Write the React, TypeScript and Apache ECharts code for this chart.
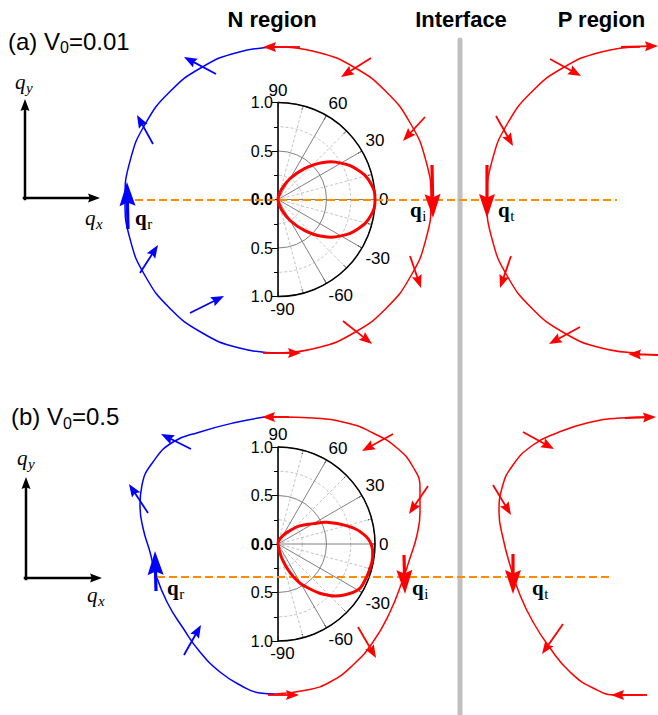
import React, { useEffect, useRef } from 'react';
import * as echarts from 'echarts';

const CANVAS_W = 658;
const CANVAS_H = 715;
const SANS = '"Liberation Sans", Arial, sans-serif';
const SERIF = '"Liberation Serif", "Times New Roman", serif';

// ---------- Panel (a): V0 = 0.01 (sketch coordinates, px) ----------
const contourA_N_red: number[][] = [
  [278, 47], [317.6, 52.2], [354.5, 67.5], [386.2, 91.8], [410.5, 123.5], [425.8, 160.4], [431, 200],
  [425.8, 239.6], [410.5, 276.5], [386.2, 308.2], [354.5, 332.5], [317.6, 347.8], [278, 353],
];
const contourA_N_blue: number[][] = [
  [278, 47], [238.4, 52.2], [201.5, 67.5], [169.8, 91.8], [145.5, 123.5], [130.2, 160.4], [125, 200],
  [130.2, 239.6], [145.5, 276.5], [169.8, 308.2], [201.5, 332.5], [238.4, 347.8], [278, 353],
];
const contourA_P: number[][] = [
  [640, 47], [600.4, 52.2], [563.5, 67.5], [531.8, 91.8], [507.5, 123.5], [492.2, 160.4], [487, 200],
  [492.2, 239.6], [507.5, 276.5], [531.8, 308.2], [563.5, 332.5], [600.4, 347.8], [640, 353],
];
// [tailX, tailY, tipX, tipY, kind] kind: 0 small, 1 large, 2 axis
const arrowsA_red: number[][] = [
  [300, 47, 263, 47, 0], [371, 58, 341, 77, 0], [425, 117, 403, 141, 0], [432, 165, 433, 218, 1],
  [410, 256, 421, 288, 0], [343, 321, 372, 344, 0], [263, 353, 301, 353, 0],
  [621, 47, 658, 46, 0], [550, 59, 581, 76, 0], [496, 116, 513, 146, 0], [487, 165, 487, 218, 1],
  [511, 256, 500, 288, 0], [580, 327, 549, 344, 0], [658, 355, 628, 354, 0],
];
const arrowsA_blue: number[][] = [
  [216, 74, 184, 57, 0], [153, 144, 137, 115, 0], [128, 229, 127, 182, 1],
  [140, 273, 158, 245, 0], [190, 313, 224, 296, 0],
];
const dashedA: number[][] = [[135, 200], [617, 200]];

// ---------- Panel (b): V0 = 0.5 ----------
const contourB_N_red: number[][] = [
  [265, 417], [280, 417], [313, 418], [347, 423], [373, 433], [397, 448], [413, 467], [420, 488], [420, 512],
  [417, 535], [410, 558], [402, 582], [390, 612], [373, 642], [353, 665], [330, 682], [307, 690], [275, 694],
];
const contourB_N_blue: number[][] = [
  [265, 417], [233, 423], [200, 432], [173, 442], [153, 462], [142, 485], [140, 505], [143, 528], [150, 552],
  [155, 572], [167, 602], [183, 628], [200, 652], [220, 672], [240, 685], [260, 693], [275, 694],
];
const contourB_P: number[][] = [
  [650, 417], [620, 418], [587, 423], [557, 433], [533, 445], [513, 465], [502, 488], [499, 512], [503, 538],
  [510, 565], [520, 595], [533, 622], [550, 648], [570, 672], [593, 688], [617, 695], [643, 695],
];
const arrowsB_red: number[][] = [
  [289, 417, 262, 417, 0], [393, 434, 362, 451, 0], [428, 486, 409, 514, 0], [404, 555, 405, 594, 1],
  [358, 627, 376, 658, 0], [268, 695, 299, 695, 0],
  [625, 418, 656, 417, 0], [523, 432, 554, 449, 0], [493, 485, 511, 515, 0], [513, 554, 513, 594, 1],
  [563, 624, 542, 654, 0], [647, 695, 611, 695, 0],
];
const arrowsB_blue: number[][] = [
  [191, 449, 161, 434, 0], [148, 513, 129, 484, 0], [156, 591, 155, 551, 1], [184, 655, 201, 625, 0],
];
const dashedB: number[][] = [[157, 577], [613, 577]];

// ---------- shared ----------
const interfaceLine: number[][] = [[460, 40], [460, 715]];
const axisArrows: number[][] = [
  [25, 199, 25, 99, 2], [24, 198, 100, 198, 2],
  [26, 579, 26, 477, 2], [25, 578, 102, 578, 2],
];

// polar transmission lobes: angle (deg) / radius
const polarAnglesA = [90, 80, 70, 60, 50, 40, 30, 20, 10, 0, -10, -20, -30, -40, -50, -60, -70, -80, -90];
const polarRadiiA = [0, 0.03, 0.12, 0.25, 0.41, 0.59, 0.75, 0.88, 0.97, 1, 0.97, 0.88, 0.75, 0.59, 0.41, 0.25, 0.12, 0.03, 0];
const polarAnglesB = [90, 75, 60, 50, 40, 30, 24, 15, 7, 0, -8, -16, -24, -30, -37, -45, -55, -65, -75, -90];
const polarRadiiB = [0, 0.04, 0.1, 0.17, 0.29, 0.42, 0.55, 0.73, 0.88, 0.96, 0.985, 0.98, 0.97, 0.95, 0.87, 0.75, 0.56, 0.37, 0.15, 0];

const polarCenters: number[][] = [[278, 199.5], [278, 544]];
const POLAR_R = 97;

function arrowSeries(data: number[][], color: string) {
  return {
    type: 'custom',
    xAxisIndex: 0,
    yAxisIndex: 0,
    data,
    z: 8,
    silent: true,
    clip: false,
    encode: { x: [0, 2], y: [1, 3] },
    renderItem: (_p: any, api: any) => {
      const a = api.coord([api.value(0), api.value(1)]);
      const b = api.coord([api.value(2), api.value(3)]);
      const kind = api.value(4);
      const L = kind === 1 ? 24 : kind === 2 ? 12 : 13;
      const hw = kind === 1 ? 8 : kind === 2 ? 4.5 : 5;
      const lw = kind === 1 ? 3.2 : kind === 2 ? 2.5 : 1.8;
      const dx = b[0] - a[0];
      const dy = b[1] - a[1];
      const len = Math.hypot(dx, dy) || 1;
      const ux = dx / len, uy = dy / len;
      const px = -uy, py = ux;
      const bx = b[0] - ux * L, by = b[1] - uy * L;
      return {
        type: 'group',
        children: [
          {
            type: 'line',
            shape: { x1: a[0], y1: a[1], x2: b[0] - ux * L * 0.6, y2: b[1] - uy * L * 0.6 },
            style: { stroke: color, lineWidth: lw, lineCap: kind === 2 ? 'square' : 'butt' },
          },
          {
            type: 'polygon',
            shape: {
              points: [
                [b[0], b[1]],
                [bx + px * hw, by + py * hw],
                [b[0] - ux * L * 0.85, b[1] - uy * L * 0.85],
                [bx - px * hw, by - py * hw],
              ],
            },
            style: { fill: color },
          },
        ],
      };
    },
  };
}

function lobeSeries(polarIndex: number, angles: number[], radii: number[]) {
  return {
    type: 'custom',
    coordinateSystem: 'polar',
    polarIndex,
    data: [[radii[0], angles[0]]],
    z: 6,
    silent: true,
    clip: false,
    renderItem: (_p: any, api: any) => {
      const pts = angles.map((a, i) => api.coord([radii[i], a]));
      return {
        type: 'polyline',
        shape: { points: pts, smooth: 0.45 },
        style: { stroke: '#ff0000', lineWidth: 3, fill: null, lineJoin: 'round' },
      };
    },
  };
}

function lineSeries(data: number[][], color: string, width: number, extra: any = {}) {
  return {
    type: 'line',
    xAxisIndex: 0,
    yAxisIndex: 0,
    data,
    smooth: true,
    symbol: 'none',
    silent: true,
    z: 3,
    lineStyle: { color, width },
    ...extra,
  };
}

export default function App() {
  const ref = useRef<HTMLDivElement>(null);

  useEffect(() => {
    if (!ref.current) return;
    const chart = echarts.init(ref.current, undefined, { renderer: 'svg' });

    const ctx = document.createElement('canvas').getContext('2d') as CanvasRenderingContext2D;
    const tw = (t: string, font: string) => {
      ctx.font = font;
      return ctx.measureText(t).width;
    };
    const txt = (text: string, x: number, baseline: number, size: number, family: string,
      weight = 'normal', fstyle = 'normal', align = 'left') => ({
      type: 'text',
      x,
      y: baseline - 0.345 * size,
      z: 20,
      silent: true,
      style: {
        text, fontSize: size, fontFamily: family, fontWeight: weight, fontStyle: fstyle,
        fill: '#000', textAlign: align, align, textVerticalAlign: 'middle', verticalAlign: 'middle',
      },
    });

    const graphics: any[] = [];
    // white masks hiding the left half of the polar rings
    polarCenters.forEach((c) => {
      graphics.push({
        type: 'rect',
        z: 1,
        silent: true,
        shape: { x: c[0] - POLAR_R - 3, y: c[1] - POLAR_R - 3, width: POLAR_R + 2.5, height: 2 * POLAR_R + 6 },
        style: { fill: '#ffffff' },
      });
    });
    // titles
    graphics.push(txt('N region', 272, 27.3, 22, SANS, 'bold', 'normal', 'center'));
    graphics.push(txt('Interface', 461, 27.3, 22, SANS, 'bold', 'normal', 'center'));
    graphics.push(txt('P region', 601.5, 27.3, 22, SANS, 'bold', 'normal', 'center'));

    // panel labels with subscript
    const panelLabel = (pre: string, post: string, x: number, baseline: number) => {
      const w1 = tw(pre, `24px ${SANS}`);
      const w2 = tw('0', `16px ${SANS}`);
      graphics.push(txt(pre, x, baseline, 24, SANS));
      graphics.push(txt('0', x + w1, baseline + 4, 16, SANS));
      graphics.push(txt(post, x + w1 + w2, baseline, 24, SANS));
    };
    panelLabel('(a) V', '=0.01', 8, 49.5);
    panelLabel('(b) V', '=0.5', 11, 425);

    // italic q_x / q_y
    const italicQ = (sub: string, x: number, baseline: number) => {
      const w = tw('q', `italic 21px ${SERIF}`);
      graphics.push(txt('q', x, baseline, 21, SERIF, 'normal', 'italic'));
      graphics.push(txt(sub, x + w + 0.5, baseline + 4, 15, SERIF, 'normal', 'italic'));
    };
    italicQ('y', 15, 89);
    italicQ('x', 85, 225);
    italicQ('y', 17, 465);
    italicQ('x', 87, 602);

    // bold q labels
    const boldQ = (sub: string, x: number, baseline: number) => {
      const w = tw('q', `bold 21px ${SERIF}`);
      graphics.push(txt('q', x, baseline, 21, SERIF, 'bold'));
      graphics.push(txt(sub, x + w + 0.5, baseline + 4, 15, SERIF));
    };
    boldQ('r', 135, 225);
    boldQ('i', 410, 217);
    boldQ('t', 498, 217);
    boldQ('r', 167, 595);
    boldQ('i', 412, 595);
    boldQ('t', 532, 595);

    const angleAxisBase = (i: number) => ({
      polarIndex: i,
      type: 'value',
      min: -90,
      max: 90,
      interval: 30,
      startAngle: -90,
      endAngle: 90,
      clockwise: false,
      z: 0,
      axisLine: { show: true, lineStyle: { color: '#000', width: 1.5 } },
      axisTick: { show: true, inside: true, length: 5, lineStyle: { color: '#000', width: 1 } },
      minorTick: { show: true, splitNumber: 2, length: 4, lineStyle: { color: '#000', width: 1 } },
      axisLabel: {
        show: true, margin: 4, fontSize: 17, color: '#000', fontFamily: SANS,
        formatter: (v: number) => (v === -90 ? '{m|-90}' : String(v)),
        rich: { m: { fontSize: 17, color: '#000', fontFamily: SANS, padding: [0, 0, 0, 9] } },
      },
      splitLine: { show: true, lineStyle: { color: '#808080', width: 1 } },
      minorSplitLine: { show: true, lineStyle: { color: '#c4c4c4', width: 1, type: [3, 2] } },
    });
    const radiusAxisBase = (i: number) => ({
      polarIndex: i,
      type: 'value',
      min: 0,
      max: 1,
      interval: 0.5,
      z: 0,
      axisLine: { show: false },
      axisTick: { show: false },
      axisLabel: { show: false },
      splitLine: { show: true, lineStyle: { color: '#808080', width: 1 } },
      minorTick: { show: false, splitNumber: 2 },
      minorSplitLine: { show: true, lineStyle: { color: '#c4c4c4', width: 1, type: [3, 2] } },
    });
    const leftAxis = (g: number) => ({
      gridIndex: g,
      type: 'value',
      min: -1,
      max: 1,
      interval: 0.5,
      z: 4,
      axisLine: { show: true, lineStyle: { color: '#000', width: 1.5 } },
      axisTick: { show: true, length: 6, lineStyle: { color: '#000', width: 1 } },
      minorTick: { show: true, splitNumber: 2, length: 4, lineStyle: { color: '#000', width: 1 } },
      splitLine: { show: false },
      axisLabel: {
        margin: 5, fontSize: 16, color: '#000', fontFamily: SANS,
        formatter: (v: number) => (v === 0 ? '{b|0.0}' : Math.abs(v).toFixed(1)),
        rich: { b: { fontSize: 16, fontWeight: 'bold', color: '#000', fontFamily: SANS } },
      },
    });

    const option: any = {
      animation: false,
      backgroundColor: '#ffffff',
      grid: [
        { left: 0, top: 0, width: CANVAS_W, height: CANVAS_H, outerBoundsMode: 'none', containLabel: false },
        { left: polarCenters[0][0], top: polarCenters[0][1] - POLAR_R, width: 20, height: 2 * POLAR_R, outerBoundsMode: 'none', containLabel: false },
        { left: polarCenters[1][0], top: polarCenters[1][1] - POLAR_R, width: 20, height: 2 * POLAR_R, outerBoundsMode: 'none', containLabel: false },
      ],
      xAxis: [
        { gridIndex: 0, type: 'value', min: 0, max: CANVAS_W, show: false },
        { gridIndex: 1, type: 'value', min: 0, max: 1, show: false },
        { gridIndex: 2, type: 'value', min: 0, max: 1, show: false },
      ],
      yAxis: [
        { gridIndex: 0, type: 'value', min: 0, max: CANVAS_H, inverse: true, show: false },
        leftAxis(1),
        leftAxis(2),
      ],
      polar: [
        { center: polarCenters[0], radius: POLAR_R },
        { center: polarCenters[1], radius: POLAR_R },
      ],
      angleAxis: [angleAxisBase(0), angleAxisBase(1)],
      radiusAxis: [radiusAxisBase(0), radiusAxisBase(1)],
      series: [
        lineSeries(interfaceLine, '#c0c0c0', 5, { smooth: false, z: 1, lineStyle: { color: '#c0c0c0', width: 5, cap: 'round' } }),
        lineSeries(contourA_N_red, '#ff0000', 1.5),
        lineSeries(contourA_N_blue, '#0000ff', 1.5),
        lineSeries(contourA_P, '#ff0000', 1.5),
        lineSeries(contourB_N_red, '#ff0000', 1.5),
        lineSeries(contourB_N_blue, '#0000ff', 1.5),
        lineSeries(contourB_P, '#ff0000', 1.5),
        lineSeries(dashedA, '#ff8c00', 2, { smooth: false, z: 5, lineStyle: { color: '#ff8c00', width: 2, type: [8, 4] } }),
        lineSeries(dashedB, '#ff8c00', 2, { smooth: false, z: 5, lineStyle: { color: '#ff8c00', width: 2, type: [8, 4] } }),
        lobeSeries(0, polarAnglesA, polarRadiiA),
        lobeSeries(1, polarAnglesB, polarRadiiB),
        arrowSeries(arrowsA_red, '#ff0000'),
        arrowSeries(arrowsA_blue, '#0000ff'),
        arrowSeries(arrowsB_red, '#ff0000'),
        arrowSeries(arrowsB_blue, '#0000ff'),
        arrowSeries(axisArrows, '#000000'),
      ],
      graphic: graphics,
    };

    chart.setOption(option);
    return () => chart.dispose();
  }, []);

  return (
    <div
      ref={ref}
      style={{ position: 'absolute', left: 0, top: 0, width: CANVAS_W, height: CANVAS_H, background: '#fff' }}
    />
  );
}
